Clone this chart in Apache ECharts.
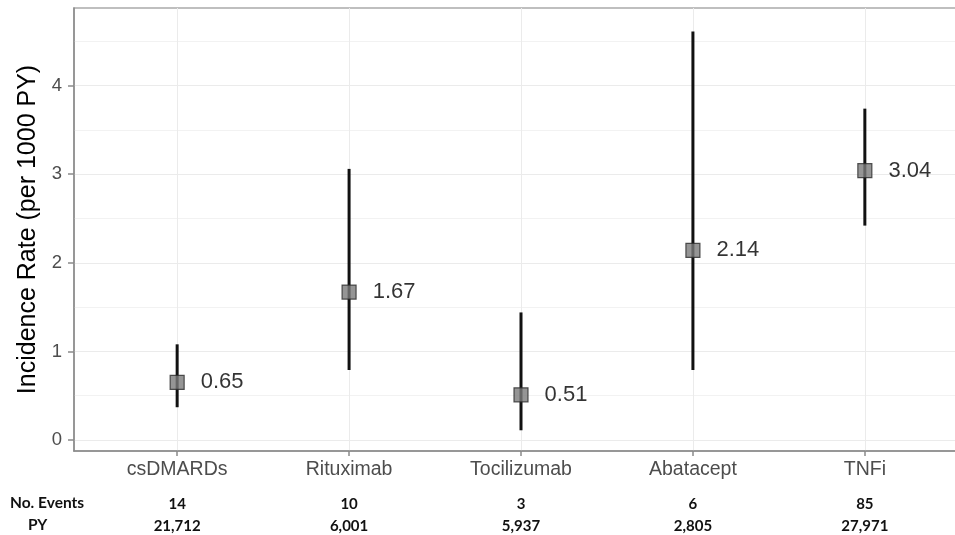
<!DOCTYPE html>
<html>
<head>
<meta charset="utf-8">
<script src="https://cdn.jsdelivr.net/npm/echarts@6/dist/echarts.min.js"></script>
<style>
  html, body { margin: 0; padding: 0; background: #ffffff; }
  #chart { width: 955px; height: 535px; }
</style>
</head>
<body>
<div id="chart"></div>
<script>
// Treatment groups and their incidence rates (per 1000 patient-years) with 95% CI
const categories = ['csDMARDs', 'Rituximab', 'Tocilizumab', 'Abatacept', 'TNFi'];
const rates = [0.65, 1.67, 0.51, 2.14, 3.04];
const ciLower = [0.37, 0.79, 0.11, 0.79, 2.42];
const ciUpper = [1.08, 3.06, 1.44, 4.61, 3.74];
const events = ['14', '10', '3', '6', '85'];
const personYears = ['21,712', '6,001', '5,937', '2,805', '27,971'];
const yTicks = [0, 1, 2, 3, 4];
const yMinorTicks = [0.5, 1.5, 2.5, 3.5, 4.5];

const positions = categories.map((_, i) => i + 1);
const pointData = positions.map((p, i) => [p, rates[i]]);
const barData = positions.map((p, i) => [p, ciLower[i], ciUpper[i]]);

const font = '"Liberation Sans", Arial, sans-serif';
const tableFont = 'Lato, "Open Sans", sans-serif';

const chart = echarts.init(document.getElementById('chart'), null, { renderer: 'canvas' });

chart.setOption({
  animation: false,
  backgroundColor: '#ffffff',
  grid: {
    left: 74, top: 8, width: 894, height: 443,
    outerBoundsMode: 'none',
    containLabel: false,
    show: true, borderColor: '#ababab', borderWidth: 1.5, backgroundColor: '#ffffff'
  },
  xAxis: {
    type: 'value',
    min: 0.4,
    max: 5.6,
    axisLine: { show: true, onZero: false, lineStyle: { color: '#8a8a8a', width: 1.5 } },
    axisTick: { show: true, length: 5, customValues: positions, lineStyle: { color: '#8a8a8a', width: 1.5 } },
    splitLine: { show: true, lineStyle: { color: '#ebebeb', width: 1 } },
    axisLabel: {
      customValues: positions,
      margin: 8,
      formatter: v => {
        const i = Math.round(v) - 1;
        return '{cat|' + categories[i] + '}\n{sp| }\n{ev|' + events[i] + '}\n{py|' + personYears[i] + '}';
      },
      rich: {
        cat: { fontFamily: font, fontSize: 19.5, color: '#4d4d4d', lineHeight: 22 },
        sp: { fontSize: 4, lineHeight: 12 },
        ev: { fontFamily: tableFont, fontWeight: 'bold', fontSize: 15, color: '#111111', lineHeight: 22 },
        py: { fontFamily: tableFont, fontWeight: 'bold', fontSize: 15, color: '#111111', lineHeight: 22 }
      }
    }
  },
  yAxis: [
    {
      type: 'value',
      min: -0.124,
      max: 4.876,
      name: 'Incidence Rate (per 1000 PY)',
      nameLocation: 'middle',
      nameGap: 33,
      nameTextStyle: { fontFamily: font, fontSize: 25, color: '#000000' },
      axisLine: { show: true, onZero: false, lineStyle: { color: '#8a8a8a', width: 1.5 } },
      axisTick: { show: true, length: 6, customValues: yTicks, lineStyle: { color: '#8a8a8a', width: 1.5 } },
      axisLabel: {
        customValues: yTicks,
        margin: 12,
        fontFamily: font,
        fontSize: 18.5,
        color: '#4d4d4d'
      },
      splitLine: { show: true, lineStyle: { color: '#ebebeb', width: 1 } }
    },
    {
      // minor horizontal grid lines halfway between the labelled ticks
      type: 'value',
      min: -0.124,
      max: 4.876,
      position: 'left',
      axisLine: { show: false },
      axisTick: { show: false, customValues: yMinorTicks },
      axisLabel: { show: false },
      splitLine: { show: true, lineStyle: { color: '#f2f2f2', width: 1 } }
    }
  ],
  graphic: [
    {
      type: 'text', left: 10, top: 495,
      style: { text: 'No. Events', font: 'bold 15.5px ' + tableFont, fill: '#111111' }
    },
    {
      type: 'text', left: 28, top: 517,
      style: { text: 'PY', font: 'bold 15.5px ' + tableFont, fill: '#111111' }
    }
  ],
  series: [
    {
      name: '95% CI',
      type: 'custom',
      data: barData,
      z: 3,
      renderItem: (params, api) => {
        const x = api.value(0);
        const lo = api.coord([x, api.value(1)]);
        const hi = api.coord([x, api.value(2)]);
        return {
          type: 'line',
          shape: { x1: lo[0], y1: lo[1], x2: hi[0], y2: hi[1] },
          style: { stroke: '#111111', lineWidth: 3 }
        };
      }
    },
    {
      name: 'Incidence rate',
      type: 'scatter',
      data: pointData,
      z: 4,
      symbol: 'rect',
      symbolSize: 14,
      itemStyle: { color: '#7b7b7b', borderColor: '#2a2a2a', borderWidth: 1.2 },
      label: {
        show: true,
        position: 'right',
        distance: 16,
        fontFamily: font,
        fontSize: 22,
        color: '#000000',
        formatter: p => p.value[1].toFixed(2)
      }
    }
  ]
});
</script>
</body>
</html>
